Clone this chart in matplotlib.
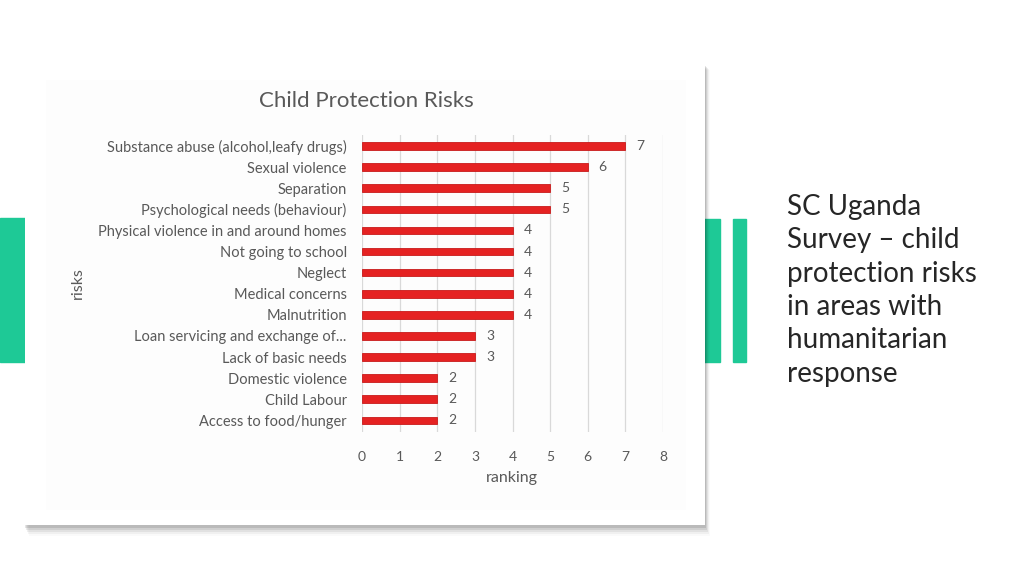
"""
Slide: SC Uganda survey - child protection risks (horizontal bar chart on a card)
"""

import matplotlib
matplotlib.use('Agg')
import matplotlib.pyplot as plt
import matplotlib.patches as patches

# data
risks = [
    'Substance abuse (alcohol,leafy drugs)',
    'Sexual violence',
    'Separation',
    'Psychological needs (behaviour)',
    'Physical violence in and around homes',
    'Not going to school',
    'Neglect',
    'Medical concerns',
    'Malnutrition',
    'Loan servicing and exchange of...',
    'Lack of basic needs',
    'Domestic violence',
    'Child Labour',
    'Access to food/hunger',
]
ranking = [7, 6, 5, 5, 4, 4, 4, 4, 4, 3, 3, 2, 2, 2]
x_ticks = [0, 1, 2, 3, 4, 5, 6, 7, 8]

side_text = 'SC Uganda\nSurvey \u2013 child\nprotection risks\nin areas with\nhumanitarian\nresponse'

W, H = 1024, 576
GREEN = '#1ec996'
RED = '#e52222'
GRAY_TXT = '#595959'

plt.rcParams['font.family'] = ['Lato', 'DejaVu Sans']

fig = plt.figure(figsize=(W / 100, H / 100), dpi=100)
fig.patch.set_facecolor('white')


def px_rect(x0, y0, x1, y1, **kw):
    # 픽셀 좌표(좌측 상단 기준)로 사각형 추가
    r = patches.Rectangle((x0 / W, 1 - y1 / H), (x1 - x0) / W, (y1 - y0) / H,
                          transform=fig.transFigure, **kw)
    fig.patches.append(r)
    return r


# 초록색 장식 막대
px_rect(0, 218, 25, 362, color=GREEN, zorder=0)
px_rect(704, 219, 720, 362, color=GREEN, zorder=0)
px_rect(733, 219, 746, 362, color=GREEN, zorder=0)

# 카드 그림자
for i, a in enumerate([0.10, 0.08, 0.06, 0.04, 0.02]):
    px_rect(25 + i, 66 + i, 706 + i, 528 + 2 * i, color='black', alpha=a, lw=0, zorder=1)
# 카드
px_rect(25, 65, 705, 525, color='white', lw=0, zorder=2)
px_rect(46, 80, 686, 510, color='#fdfdfd', lw=0, zorder=2)

# 차트 축
ax = fig.add_axes([362 / W, 1 - 432 / H, (663 - 362) / W, (432 - 135) / H])
ax.set_facecolor('none')
ax.set_zorder(3)

y_pos = list(range(len(risks)))
ax.barh(y_pos, ranking, height=0.36, color=RED, edgecolor='#c81a1a', linewidth=0.6, zorder=3)
for y, v in zip(y_pos, ranking):
    ax.text(v + 0.4, y, str(v), va='center', ha='center', fontsize=10, color=GRAY_TXT)

ax.set_xlim(0, 8)
ax.set_ylim(13.55, -0.52)
ax.set_xticks(x_ticks)
ax.set_yticks(y_pos)
ax.set_yticklabels(risks, fontsize=10.5, color=GRAY_TXT)
ax.tick_params(axis='x', length=0, pad=14, labelsize=10, labelcolor=GRAY_TXT)
ax.tick_params(axis='y', length=0, pad=11)
ax.grid(axis='x', color='#d9d9d9', linewidth=0.9, zorder=0)
ax.set_axisbelow(True)
for s in ax.spines.values():
    s.set_visible(False)

fig.text(512 / W, 1 - 478 / H, 'ranking', ha='center', va='center', fontsize=11.5, color=GRAY_TXT)
fig.text(78 / W, 1 - 283 / H, 'risks', ha='center', va='center', rotation=90, fontsize=11.5, color=GRAY_TXT)
fig.text(366 / W, 1 - 101 / H, 'Child Protection Risks', ha='center', va='center',
         fontsize=16, color=GRAY_TXT)

# 오른쪽 설명 텍스트
fig.text(787 / W, 1 - 194 / H, side_text, ha='left', va='top', fontsize=20,
         color='#262626', linespacing=1.35)

fig.savefig('out.png', dpi=100)
